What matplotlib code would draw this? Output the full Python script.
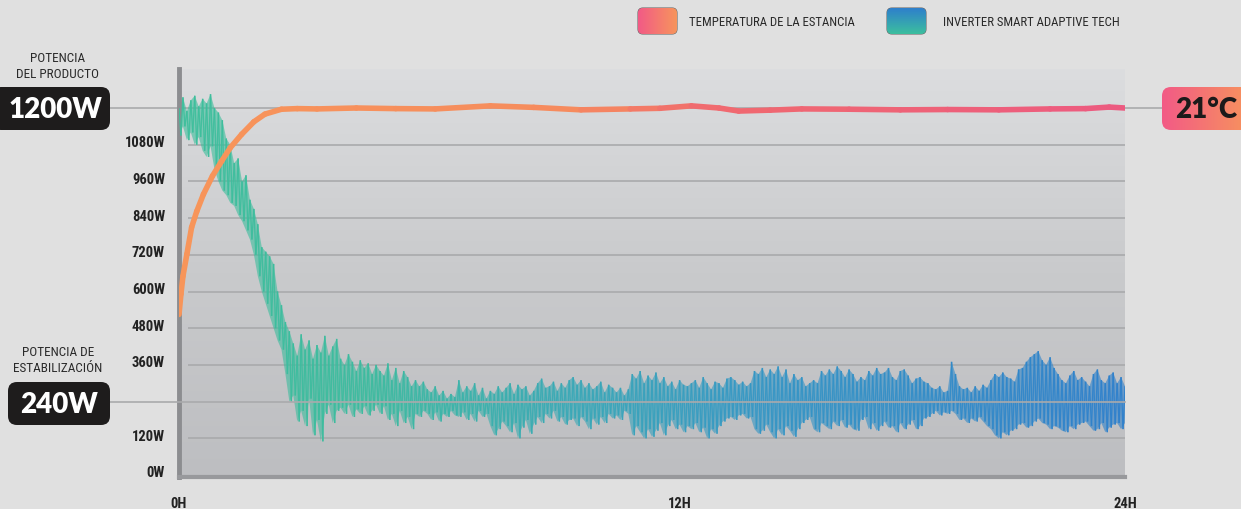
import numpy as np
import matplotlib
matplotlib.use("Agg")
import matplotlib.pyplot as plt
import matplotlib.transforms as mtransforms
from matplotlib import font_manager
from matplotlib.collections import LineCollection
from matplotlib.colors import LinearSegmentedColormap
from matplotlib.patches import FancyBboxPatch

installed = {f.name for f in font_manager.fontManager.ttflist}


def pick(*names):
    for n in names:
        if n in installed:
            return n
    return "DejaVu Sans"


COND = pick("Roboto Condensed", "Liberation Sans Narrow", "Roboto", "DejaVu Sans")
HEAVY = pick("Lato", "Montserrat", "DejaVu Sans")

# ---- data ----
y_ticks = [0, 120, 360, 480, 600, 720, 840, 960, 1080]
y_tick_labels = ["0W", "120W", "360W", "480W", "600W", "720W", "840W", "960W", "1080W"]
grid_levels = [120, 360, 480, 600, 720, 840, 960, 1080]
x_ticks = [0, 12.7, 24]
x_tick_labels = ["0H", "12H", "24H"]
product_power = 1200
stabilization_power = 240

legend_labels = ["TEMPERATURA DE LA ESTANCIA", "INVERTER SMART ADAPTIVE TECH"]

# room temperature curve, drawn on the power scale (21°C sits at the 1200W line)
temp_hours = [0.0, 0.05, 0.1, 0.2, 0.32, 0.45, 0.62, 0.85, 1.08, 1.3, 1.59, 1.9, 2.18,
              2.6, 3.0, 3.5, 4.5, 5.5, 6.5, 7.9, 9.0, 10.2, 11.45, 12.2, 13.0, 13.7,
              14.2, 15.0, 15.8, 17.0, 18.3, 19.5, 20.8, 22.1, 23.0, 23.6, 24.0]
temp_level = [525, 592, 650, 722, 810, 862, 918, 978, 1026, 1070, 1114, 1155, 1180,
              1196, 1198, 1197, 1200, 1198, 1197, 1207, 1202, 1194, 1197, 1199, 1207, 1200,
              1190, 1193, 1197, 1196, 1194, 1195, 1194, 1197, 1198, 1203, 1200]

# inverter power: upper / lower excursions every 0.1 h
power_step = 0.1
power_hi = [1200, 1235, 1190, 1225, 1240, 1205, 1230, 1215, 1245, 1200, 1185,
            1160, 1100, 1080, 1020, 1035, 960, 980, 900, 870, 820,
            745, 730, 715, 690, 600, 555, 500, 470, 430, 390,
            460, 410, 440, 380, 425, 400, 455, 390, 420, 445,
            380, 360, 395, 370, 340, 375, 350, 365, 330, 360,
            340, 325, 365, 310, 350, 300, 340, 320, 290, 310,
            290, 305, 280, 270, 290, 260, 275, 250, 265, 255,
            310, 270, 290, 275, 300, 260, 285, 250, 275, 265,
            290, 270, 285, 300, 265, 295, 280, 290, 260, 275,
            300, 315, 285, 290, 305, 275, 300, 285, 310, 320,
            295, 310, 285, 300, 280, 290, 305, 270, 295, 285,
            270, 285, 260, 280, 330, 315, 340, 300, 325, 310,
            335, 300, 320, 290, 305, 280, 310, 295, 290, 300,
            310, 285, 320, 300, 280, 305, 300, 285, 315, 320,
            310, 295, 305, 290, 300, 340, 330, 350, 320, 345,
            330, 355, 320, 345, 300, 330, 310, 320, 290, 300,
            310, 300, 340, 325, 345, 330, 355, 340, 320, 345,
            330, 305, 320, 310, 340, 325, 350, 330, 335, 350,
            320, 310, 340, 345, 325, 300, 315, 320, 305, 300,
            285, 280, 290, 270, 275, 370, 330, 290, 280, 285,
            270, 290, 275, 295, 285, 310, 330, 320, 335, 320,
            315, 305, 345, 350, 370, 385, 395, 405, 375, 360,
            385, 350, 330, 310, 300, 325, 340, 310, 320, 305,
            290, 330, 345, 310, 300, 325, 335, 300, 320, 290]
power_lo = [1110, 1140, 1095, 1120, 1080, 1105, 1060, 1040, 1075, 1000, 960,
            930, 915, 890, 880, 850, 830, 800, 770, 720, 650,
            600, 560, 520, 480, 440, 410, 330, 240, 260, 175,
            210, 160, 250, 130, 180, 110, 200, 230, 170, 210,
            220, 200, 230, 190, 215, 200, 225, 195, 210, 230,
            200, 225, 180, 200, 160, 210, 170, 190, 150, 200,
            190, 210, 200, 180, 205, 175, 200, 190, 210, 195,
            190, 205, 180, 200, 175, 210, 190, 200, 160, 130,
            150, 175, 160, 140, 170, 120, 155, 180, 135, 165,
            190, 170, 200, 185, 210, 175, 190, 165, 180, 185,
            160, 190, 175, 150, 185, 165, 190, 170, 200, 185,
            195, 180, 210, 200, 130, 160, 140, 120, 150, 125,
            145, 170, 130, 160, 180, 150, 165, 140, 160, 150,
            170, 140, 155, 120, 150, 135, 160, 175, 185, 190,
            180, 195, 200, 185, 190, 150, 135, 145, 165, 140,
            120, 150, 130, 160, 145, 125, 150, 170, 180, 190,
            150, 140, 170, 160, 150, 175, 160, 180, 155, 165,
            150, 145, 180, 190, 150, 170, 145, 160, 175, 155,
            160, 140, 170, 150, 165, 180, 150, 160, 185, 190,
            200, 210, 195, 205, 200, 210, 200, 180, 185, 170,
            185, 175, 190, 175, 160, 150, 130, 120, 140, 130,
            145, 150, 165, 170, 155, 160, 175, 185, 170, 165,
            150, 160, 155, 145, 140, 160, 150, 165, 170, 175,
            160, 145, 150, 170, 140, 155, 165, 170, 150, 170]

# ---- colours ----
FIG_BG = "#e0e0e0"
GRID = "#a9aaac"
bg_cmap = LinearSegmentedColormap.from_list("bg", ["#dcdddf", "#c9cacc", "#bdbec1"])
temp_cmap = LinearSegmentedColormap.from_list(
    "temp", [(0, "#f7955a"), (0.42, "#f68b5e"), (0.56, "#f06a6f"), (1, "#ec5a80")])
power_cmap = LinearSegmentedColormap.from_list(
    "power", [(0, "#3dbf9c"), (0.2, "#3cbb9f"), (0.42, "#39a8b7"), (0.62, "#3596c5"), (1, "#2e80cc")])
badge_cmap = LinearSegmentedColormap.from_list("badge", ["#f25a86", "#f7955c"])
swatch2_cmap = LinearSegmentedColormap.from_list("sw2", ["#2e7fcc", "#3cbf9e"])

W, H = 1241, 510
fig = plt.figure(figsize=(W / 100, H / 100), dpi=100, facecolor=FIG_BG)

# main axes placed to match the reference pixels
ax_left, ax_right, ax_top, ax_bot = 179, 1125, 70, 478
ax = fig.add_axes([ax_left / W, 1 - ax_bot / H, (ax_right - ax_left) / W, (ax_bot - ax_top) / H])
px_per_w = (476 - 109) / 1200
ymin = -(ax_bot - 476) / px_per_w
ymax = ymin + (ax_bot - ax_top) / px_per_w
px_per_h = (ax_right - ax_left) / 24

ax.imshow(np.linspace(0, 1, 256).reshape(-1, 1), extent=(0, 24, ymin, ymax),
          cmap=bg_cmap, aspect="auto", zorder=0)

# grid
ax.hlines(grid_levels, 0.23, 24, color=GRID, lw=1.2, zorder=1)
ax.plot([-(ax_left - 110) / px_per_h, (1162 - ax_left) / px_per_h], [product_power] * 2,
        color=GRID, lw=1.2, clip_on=False, zorder=1)
ax.plot([-(ax_left - 110) / px_per_h, 24], [stabilization_power] * 2,
        color=GRID, lw=1.2, clip_on=False, zorder=5)

# inverter power band: translucent body + spiky outline
hours = np.arange(len(power_hi)) * power_step
band = ax.fill_between(hours, power_lo, power_hi, facecolor="none", lw=0)
band_img = ax.imshow(np.linspace(0, 1, 256).reshape(1, -1), extent=(0, 24, ymin, ymax),
                     cmap=power_cmap, aspect="auto", alpha=0.6, zorder=2)
band_img.set_clip_path(band.get_paths()[0], ax.transData)

zx = np.column_stack([hours, hours + power_step / 2]).ravel()[:-1]
zy = np.column_stack([power_hi, power_lo]).ravel()[:-1]
pts = np.column_stack([zx, zy])
segs = np.stack([pts[:-1], pts[1:]], axis=1)
ax.add_collection(LineCollection(segs, colors=power_cmap(np.clip(segs[:, :, 0].mean(1) / 24, 0, 1)),
                                 lw=1.0, alpha=0.9, zorder=3))

# room temperature
tp = np.column_stack([temp_hours, temp_level])
tsegs = np.stack([tp[:-1], tp[1:]], axis=1)
ax.add_collection(LineCollection(tsegs, colors=temp_cmap(tsegs[:, :, 0].mean(1) / 24),
                                 lw=4, capstyle="round", joinstyle="round", zorder=4))

ax.set_xlim(0, 24)
ax.set_ylim(ymin, ymax)
for s in ["top", "right"]:
    ax.spines[s].set_visible(False)
ax.spines["left"].set_color("#8c8d90")
ax.spines["left"].set_linewidth(3.5)
ax.spines["bottom"].set_color("#98999c")
ax.spines["bottom"].set_linewidth(3)
ax.tick_params(length=0)
ax.set_yticks(y_ticks, y_tick_labels, fontsize=10.5, color="#222222", family=COND, weight="bold")
ax.set_xticks(x_ticks, x_tick_labels, fontsize=10.5, color="#222222", family=COND, weight="bold")
ax.tick_params(axis="y", pad=10)
ax.tick_params(axis="x", pad=14)
shift = mtransforms.ScaledTranslation(0, 4 / 100, fig.dpi_scale_trans)
for lbl in ax.get_yticklabels():
    lbl.set_transform(lbl.get_transform() + shift)

# overlay in pixel coordinates for badges and legend
ov = fig.add_axes([0, 0, 1, 1])
ov.axis("off")


def box(x0, y0, x1, y1, r, **kw):
    p = FancyBboxPatch((x0, y0), x1 - x0, y1 - y0,
                       boxstyle=f"round,pad=0,rounding_size={r}", **kw)
    ov.add_patch(p)
    return p


def gradient(patch, x0, y0, x1, y1, cmap, vertical=False):
    arr = np.linspace(0, 1, 256)
    arr = arr.reshape(-1, 1) if vertical else arr.reshape(1, -1)
    im = ov.imshow(arr, extent=(x0, x1, y1, y0), cmap=cmap, aspect="auto", zorder=patch.get_zorder())
    im.set_clip_path(patch)


box(-8, 88, 110, 131, 9, facecolor="#1e1c1c", edgecolor="none")
ov.text(55, 110, "1200W", color="white", fontsize=20, family=HEAVY, weight="heavy",
        ha="center", va="center")
box(8, 383, 110, 426, 9, facecolor="#1e1c1c", edgecolor="none")
ov.text(59, 405, "240W", color="white", fontsize=20, family=HEAVY, weight="heavy",
        ha="center", va="center")

b = box(1162, 88, 1252, 131, 9, facecolor="none", edgecolor="none")
gradient(b, 1162, 88, 1252, 131, badge_cmap)
ov.text(1206, 110, "21°C", color="#1c1a1a", fontsize=20, family=HEAVY, weight="heavy",
        ha="center", va="center", zorder=5)

for txt, y in [("POTENCIA", 58), ("DEL PRODUCTO", 74), ("POTENCIA DE", 353), ("ESTABILIZACIÓN", 369)]:
    ov.text(58, y, txt, color="#2a2a2a", fontsize=9.5, family=COND, ha="center", va="center")

s1 = box(638, 9, 677, 35, 5, facecolor="none", edgecolor="#6a6a6a", lw=0.8, zorder=3)
gradient(s1, 638, 9, 677, 35, badge_cmap)
s2 = box(887, 9, 926, 35, 5, facecolor="none", edgecolor="#6a6a6a", lw=0.8, zorder=3)
gradient(s2, 887, 9, 926, 35, swatch2_cmap, vertical=True)
ov.text(689, 23, legend_labels[0], color="#2a2a2a", fontsize=9.2, family=COND, va="center")
ov.text(943, 23, legend_labels[1], color="#2a2a2a", fontsize=9.2, family=COND, va="center")

ov.set_xlim(0, W)
ov.set_ylim(H, 0)

fig.savefig("out.png", dpi=100, facecolor=FIG_BG)
